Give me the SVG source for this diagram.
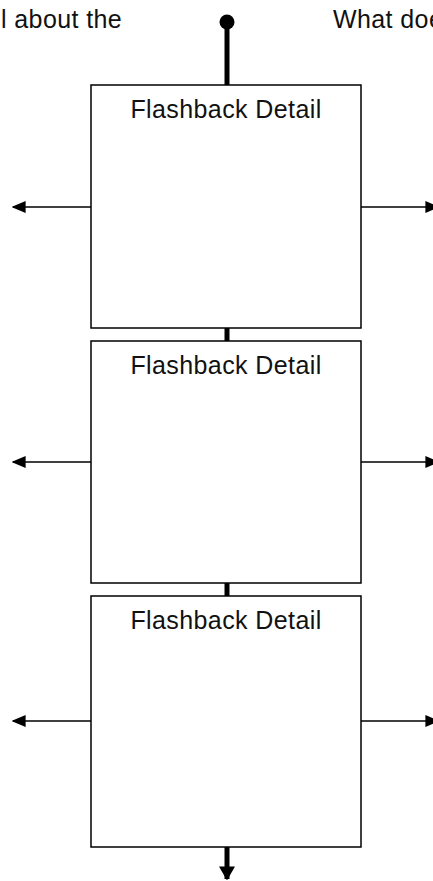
<svg xmlns="http://www.w3.org/2000/svg" width="433" height="881" viewBox="0 0 433 881">
<defs>
<style>
.box{fill:#fff;stroke:#000;stroke-width:1.5}
.t{font-family:"Liberation Sans",Arial,sans-serif;font-size:25px;letter-spacing:0.4px;fill:#111}
.thin{stroke:#000;stroke-width:1.5;fill:none}
.thick{stroke:#000;stroke-width:5;fill:none}
</style>
<marker id="ah" viewBox="0 0 10 10" refX="9" refY="5" markerWidth="14" markerHeight="12" markerUnits="userSpaceOnUse" orient="auto" preserveAspectRatio="none">
<path d="M0,0 L10,5 L0,10 z" fill="#000"/>
</marker>
<marker id="ahb" viewBox="0 0 10 10" refX="9" refY="5" markerWidth="14" markerHeight="16" markerUnits="userSpaceOnUse" orient="auto" preserveAspectRatio="none">
<path d="M0,0 L10,5 L0,10 z" fill="#000"/>
</marker>
</defs>
<rect width="433" height="881" fill="#fff"/>
<text class="t" x="1" y="28">l about the</text>
<text class="t" x="333" y="28">What does</text>
<g id="connectors">
<circle cx="227" cy="22" r="7.5" fill="#000"/>
<line class="thick" x1="227" y1="22" x2="227" y2="86"/>
<line class="thick" x1="227" y1="328" x2="227" y2="341"/>
<line class="thick" x1="227" y1="583" x2="227" y2="596"/>
<line class="thick" x1="227" y1="847" x2="227" y2="879" marker-end="url(#ahb)"/>
<line class="thin" x1="91" y1="207" x2="13" y2="207" marker-end="url(#ah)"/>
<line class="thin" x1="361" y1="207" x2="438" y2="207" marker-end="url(#ah)"/>
<line class="thin" x1="91" y1="462" x2="13" y2="462" marker-end="url(#ah)"/>
<line class="thin" x1="361" y1="462" x2="438" y2="462" marker-end="url(#ah)"/>
<line class="thin" x1="91" y1="721" x2="13" y2="721" marker-end="url(#ah)"/>
<line class="thin" x1="361" y1="721" x2="438" y2="721" marker-end="url(#ah)"/>
</g>
<g id="node1">
<rect class="box" x="91" y="85" width="270" height="243"/>
<text class="t" x="226" y="118" text-anchor="middle">Flashback Detail</text>
</g>
<g id="node2">
<rect class="box" x="91" y="341" width="270" height="242"/>
<text class="t" x="226" y="374" text-anchor="middle">Flashback Detail</text>
</g>
<g id="node3">
<rect class="box" x="91" y="596" width="270" height="251"/>
<text class="t" x="226" y="629" text-anchor="middle">Flashback Detail</text>
</g>
</svg>
